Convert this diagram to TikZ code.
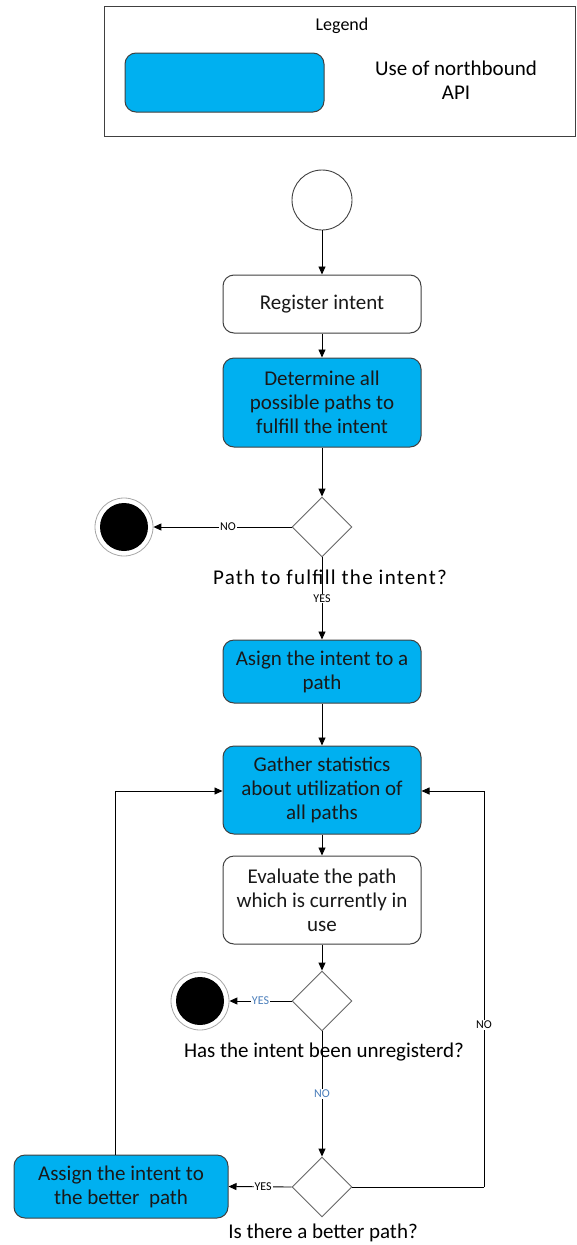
\documentclass[tikz,border=0pt]{standalone}
\usepackage{fontspec}
\setmainfont{Carlito}
\usetikzlibrary{arrows.meta,shapes.geometric}
\definecolor{apiblue}{HTML}{00B0F0}
\definecolor{edgegray}{HTML}{404040}
\definecolor{lblblue}{HTML}{4A7EBB}
\tikzset{
  every node/.style={font=\fontsize{21}{24}\selectfont},
  actbox/.style={draw=edgegray, line width=1pt, rounded corners=11pt, fill=white,
    minimum width=198pt, minimum height=58pt, align=center, inner sep=2pt, text=black!90},
  apibox/.style={actbox, fill=apiblue},
  decision/.style={draw=edgegray!80, line width=0.9pt, diamond, minimum width=60pt,
    minimum height=60pt, inner sep=0pt, fill=white},
  flow/.style={line width=0.9pt, -{Triangle[length=8pt,width=7pt]}},
  plain/.style={line width=0.9pt},
  guard/.style={font=\fontsize{12}{14}\selectfont, fill=white, inner sep=1pt},
  endring/.style={circle, draw=black!35, line width=0.8pt, minimum size=58pt, inner sep=0pt, fill=white},
  enddot/.style={circle, fill=black, minimum size=48pt, inner sep=0pt},
}
\begin{document}
\begin{tikzpicture}[x=1pt,y=-1pt]
\useasboundingbox (0,0) rectangle (576,1245);

% legend
\draw[draw=edgegray, line width=1pt] (104,6) rectangle (575.5,136);
\node (legendtitle) at (342,26) {\fontsize{18}{20}\selectfont Legend};
\node[draw=edgegray, line width=1pt, rounded corners=11pt, fill=apiblue,
  minimum width=199pt, minimum height=59pt] (legendbox) at (224.5,82.5) {};
\node[align=center] (legendtext) at (456,80) {Use of northbound\\API};

% start
\node[circle, draw=edgegray, line width=0.9pt, minimum size=60pt, inner sep=0pt] (start) at (322,200) {};

% activities
\node[actbox] (register) at (322,304) {Register intent};
\node[apibox, minimum height=89pt] (determine) at (322,402.5) {Determine all\\possible paths to\\fulfill the intent};
\node[decision] (d1) at (322,527) {};
\node[endring] (end1ring) at (124,527) {};
\node[enddot] (end1) at (124,527) {};
\node (q1) at (330,577) {\addfontfeature{LetterSpace=6}Path to fulfill the intent?};
\node[apibox, minimum height=63pt] (assign) at (322,671.5) {Asign the intent to a\\path};
\node[apibox, minimum height=88pt] (gather) at (322,790) {Gather statistics\\about utilization of\\all paths};
\node[actbox, minimum height=88pt] (evaluate) at (322,900) {Evaluate the path\\which is currently in\\use};
\node[decision] (d2) at (322,1001) {};
\node[endring] (end2ring) at (200,1001) {};
\node[enddot] (end2) at (200,1001) {};
\node (q2) at (324,1052) {Has the intent been unregisterd?};
\node[decision] (d3) at (322,1187) {};
\node (q3) at (323,1233) {Is there a better path?};
\node[apibox, minimum width=214pt, minimum height=63pt] (better) at (121,1186.5) {Assign the intent to\\the better\ \ path};

% routing corners
\coordinate (rightup) at (484,1187);
\coordinate (righttop) at (484,791);
\coordinate (leftup) at (115,791);

% connectors
\draw[flow] (start) -- (register);
\draw[flow] (register) -- (determine);
\draw[flow] (determine) -- (d1);
\draw[flow] (d1.west) -- node[guard, pos=0.46] {NO} (end1ring);
\draw[flow] (d1.south) -- node[guard, pos=0.5] {YES} (assign.north);
\draw[flow] (assign) -- (gather);
\draw[flow] (gather) -- (evaluate);
\draw[flow] (evaluate) -- (d2);
\draw[flow] (d2.west) -- node[guard, text=lblblue, pos=0.5] {YES} (end2ring);
\draw[flow] (d2.south) -- node[guard, text=lblblue, pos=0.5] {NO} (d3.north);
\draw[flow] (d3.west) -- node[guard, pos=0.45] {YES} (better.east);
\draw[plain] (d3.east) -- (rightup);
\draw[flow] (rightup) -- node[guard, pos=0.41] {NO} (righttop) -- (gather.east |- righttop);
\draw[flow] (better.north -| leftup) -- (leftup) -- (gather.west |- leftup);
\end{tikzpicture}
\end{document}
